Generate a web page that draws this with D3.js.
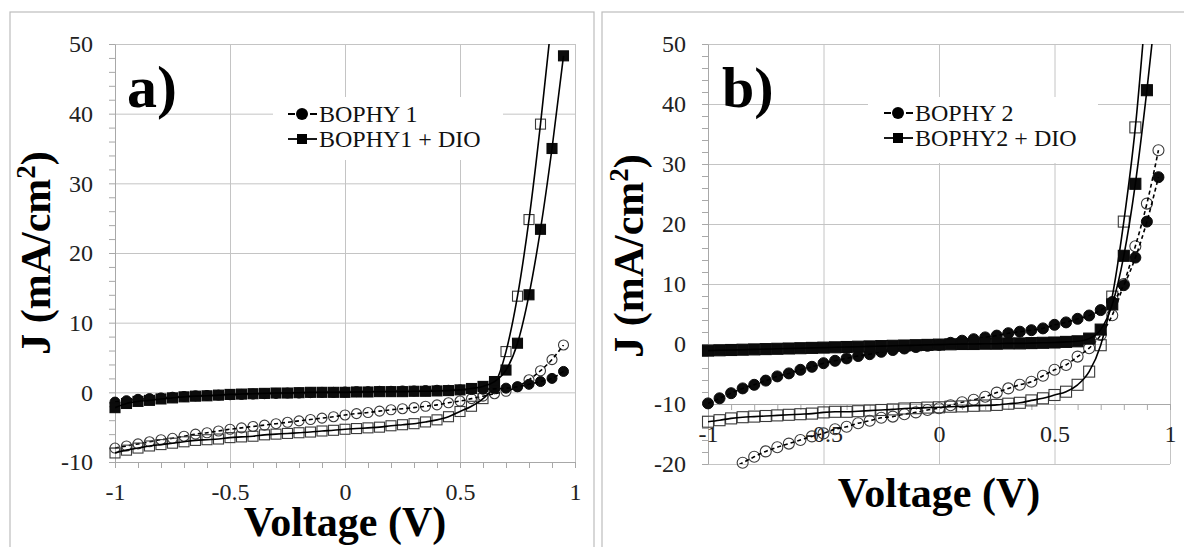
<!DOCTYPE html>
<html><head><meta charset="utf-8">
<script src="https://cdn.jsdelivr.net/npm/d3@7"></script>
<style>
body{margin:0;background:#fff;}
svg{display:block;font-family:"Liberation Serif","Times New Roman",serif;}
</style></head><body>
<svg id="c" width="1184" height="547"></svg>
<script>
// ---- data ----
const voltage = [-1,-0.95,-0.9,-0.85,-0.8,-0.75,-0.7,-0.65,-0.6,-0.55,
  -0.5,-0.45,-0.4,-0.35,-0.3,-0.25,-0.2,-0.15,-0.1,-0.05,
  0,0.05,0.1,0.15,0.2,0.25,0.3,0.35,0.4,0.45,
  0.5,0.55,0.6,0.65,0.7,0.75,0.8,0.85,0.9,0.95];

const xTickLabels = [-1,-0.5,0,0.5,1];
const aYTickLabels = [-10,0,10,20,30,40,50];
const bYTickLabels = [-20,-10,0,10,20,30,40,50];

const aLegend = ["BOPHY 1","BOPHY1 + DIO"];
const bLegend = ["BOPHY 2","BOPHY2 + DIO"];

// Panel a
const aBophy1Dark = [-1.4,-1.2,-1.0,-0.9,-0.8,-0.7,-0.6,-0.5,-0.45,-0.4,
  -0.35,-0.3,-0.25,-0.2,-0.15,-0.1,-0.1,-0.05,0,0,
  0.05,0.1,0.1,0.15,0.15,0.2,0.2,0.25,0.3,0.3,
  0.35,0.4,0.45,0.5,0.6,0.8,1.15,1.55,2.0,3.0];
const aBophy1Light = [-8.0,-7.7,-7.4,-7.1,-6.8,-6.6,-6.3,-6.0,-5.8,-5.55,
  -5.3,-5.1,-4.9,-4.7,-4.5,-4.3,-4.1,-3.9,-3.7,-3.5,
  -3.25,-3.05,-2.9,-2.7,-2.5,-2.35,-2.2,-2.0,-1.8,-1.5,
  -1.25,-0.9,-0.55,-0.2,0.15,0.8,1.8,3.1,4.7,6.8];
const aDioDark = [-2.2,-1.6,-1.3,-1.15,-0.95,-0.8,-0.65,-0.55,-0.5,-0.4,
  -0.3,-0.25,-0.2,-0.15,-0.1,-0.1,-0.05,0,0,0,
  0,0.05,0.05,0.1,0.1,0.1,0.15,0.15,0.2,0.25,
  0.35,0.55,0.85,1.55,3.2,7.05,14.0,23.4,35.0,48.3];
const aDioLight = [-8.7,-8.3,-8.0,-7.7,-7.5,-7.3,-7.1,-6.9,-6.8,-6.7,
  -6.5,-6.4,-6.3,-6.1,-6.0,-5.9,-5.8,-5.7,-5.55,-5.45,
  -5.3,-5.2,-5.1,-5.0,-4.8,-4.65,-4.5,-4.25,-3.95,-3.5,
  -2.75,-2.0,-0.9,1.0,5.85,13.8,24.8,38.5,54,70];

// Panel b
const bBophy2Dark = [-9.9,-9.05,-8.2,-7.4,-6.8,-6.1,-5.4,-4.9,-4.3,-3.8,
  -3.2,-2.8,-2.4,-2.0,-1.7,-1.3,-1.0,-0.75,-0.5,-0.3,
  -0.15,0.2,0.55,0.8,1.1,1.4,1.8,2.05,2.3,2.6,
  3.2,3.6,4.2,4.75,5.65,7.0,9.8,14.4,20.4,27.8];
const bBophy2Light = [-22.8,-21.8,-20.8,-19.8,-18.8,-17.9,-17.2,-16.6,-16.0,-15.4,
  -14.9,-14.2,-13.8,-13.2,-12.8,-12.3,-12.1,-11.7,-11.4,-11.0,
  -10.7,-10.2,-9.7,-9.3,-8.8,-8.1,-7.4,-6.8,-6.3,-5.3,
  -4.3,-3.5,-2.1,-0.7,1.5,4.8,10.0,16.3,23.4,32.3];
const bDioDark = [-1.1,-1.05,-1.0,-0.95,-0.9,-0.85,-0.8,-0.75,-0.7,-0.65,
  -0.6,-0.55,-0.5,-0.45,-0.4,-0.35,-0.3,-0.25,-0.2,-0.15,
  -0.1,-0.05,0,0,0.05,0.05,0.1,0.1,0.15,0.2,
  0.25,0.35,0.45,0.9,2.4,6.6,14.7,26.7,42.3,60];
const bDioLight = [-12.95,-12.7,-12.4,-12.2,-12.1,-12.0,-11.9,-11.8,-11.7,-11.6,
  -11.4,-11.3,-11.3,-11.2,-11.1,-11.0,-10.9,-10.75,-10.7,-10.6,
  -10.55,-10.45,-10.4,-10.3,-10.25,-10.15,-9.95,-9.8,-9.4,-9.05,
  -8.5,-7.95,-6.8,-4.6,-0.2,7.9,20.4,36.1,58,80];

// ---- drawing ----
const svg = d3.select("#c");
const GRID = "#c4c4c4";
const SERIF = "'Liberation Serif','Times New Roman',Times,serif";

function drawPanel(cfg){
  const g = svg.append("g");
  g.append("rect").attr("x",cfg.frame[0]).attr("y",cfg.frame[1])
    .attr("width",cfg.frame[2]).attr("height",cfg.frame[3])
    .attr("fill","#fff").attr("stroke","#bdbdbd").attr("stroke-width",1.2);

  const x = d3.scaleLinear().domain([-1,1]).range([cfg.x0,cfg.x1]);
  const y = d3.scaleLinear().domain(cfg.yDomain).range([cfg.y1,cfg.y0]);
  const W = cfg.x1-cfg.x0, H = cfg.y1-cfg.y0;

  const hg = g.append("g").attr("transform",`translate(${cfg.x0},0)`)
    .call(d3.axisLeft(y).tickValues(cfg.yTicks).tickSize(-W).tickFormat(""));
  hg.select(".domain").remove();
  hg.selectAll("line").attr("stroke",GRID);
  const vg = g.append("g").attr("transform",`translate(0,${cfg.y1})`)
    .call(d3.axisBottom(x).tickValues(xTickLabels).tickSize(-H).tickFormat(""));
  vg.select(".domain").remove();
  vg.selectAll("line").attr("stroke",GRID);

  const minorY = d3.range(cfg.yDomain[0], cfg.yDomain[1]+0.001, 2);
  const ya = g.append("g").attr("transform",`translate(${cfg.x0},0)`)
    .call(d3.axisLeft(y).tickValues(minorY).tickSize(6).tickSizeOuter(0).tickFormat(""));
  ya.select(".domain").attr("stroke","#a8a8a8");
  ya.selectAll("line").attr("stroke","#a8a8a8");

  const minorX = d3.range(-10, 11, 1).map(d=>d/10);
  const xa = g.append("g").attr("transform",`translate(0,${y(cfg.xAxisAt)})`)
    .call(d3.axisBottom(x).tickValues(minorX).tickSize(6).tickSizeOuter(0).tickFormat(""));
  xa.select(".domain").attr("stroke","#a8a8a8");
  xa.selectAll("line").attr("stroke","#a8a8a8");

  const yl = g.append("g").attr("transform",`translate(${cfg.x0},0)`)
    .call(d3.axisLeft(y).tickValues(cfg.yTicks).tickSize(0).tickPadding(22).tickFormat(d=>d));
  yl.attr("font-family",SERIF);
  yl.select(".domain").remove();
  yl.selectAll("text").attr("font-size",24).attr("font-family",SERIF).attr("fill","#222");

  const xl = g.append("g").attr("transform",`translate(0,${y(cfg.xAxisAt)})`)
    .call(d3.axisBottom(x).tickValues(xTickLabels).tickSize(0).tickFormat(d=>d));
  xl.attr("font-family",SERIF);
  xl.select(".domain").remove();
  xl.selectAll("text").attr("dy",null).attr("y",38).attr("font-size",24)
    .attr("font-family",SERIF).attr("fill","#222");

  g.append("text").attr("x",(cfg.x0+cfg.x1)/2).attr("y",cfg.xTitleY)
    .attr("text-anchor","middle").attr("font-weight","bold").attr("font-size",42)
    .attr("font-family",SERIF).text("Voltage (V)");
  const yt = g.append("text").attr("transform",`translate(${cfg.yTitleX},${cfg.yTitleY}) rotate(-90)`)
    .attr("text-anchor","middle").attr("font-weight","bold").attr("font-size",42)
    .attr("font-family",SERIF);
  yt.append("tspan").text("J (mA/cm");
  yt.append("tspan").attr("dy",-15).attr("font-size",27).text("2");
  yt.append("tspan").attr("dy",15).text(")");

  g.append("text").attr("x",cfg.letterX).attr("y",107).attr("font-weight","bold")
    .attr("font-family",SERIF).attr("font-size",cfg.letterSize).text(cfg.letter);

  g.append("rect").attr("x",cfg.legBox[0]).attr("y",cfg.legBox[1])
    .attr("width",cfg.legBox[2]).attr("height",cfg.legBox[3]).attr("fill","#fff");

  const clipId = "clip"+cfg.letter.replace(")","");
  g.append("clipPath").attr("id",clipId).append("rect")
    .attr("x",cfg.x0).attr("y",cfg.y0).attr("width",W).attr("height",H);
  const line = d3.line().x(d=>x(d.v)).y(d=>y(d.j)).curve(d3.curveMonotoneX);
  const inside = d => d.j >= cfg.yDomain[0] && d.j <= cfg.yDomain[1];
  const ms = cfg.markerSize;

  cfg.series.forEach(s=>{
    const pts = voltage.map((v,i)=>({v, j:s.values[i]}));
    const sg = g.append("g");
    const filled = s.filled;
    const mg = sg.append("g");
    const vis = pts.filter(inside);
    if(s.shape==="circle"){
      mg.selectAll("circle").data(vis).join("circle")
        .attr("cx",d=>x(d.v)).attr("cy",d=>y(d.j)).attr("r",ms/2)
        .attr("fill",filled?"#0b0b0b":"none")
        .attr("stroke",filled?"#0b0b0b":"#3a3a3a").attr("stroke-width",filled?1:1.1);
    } else {
      mg.selectAll("rect").data(vis).join("rect")
        .attr("x",d=>x(d.v)-ms/2).attr("y",d=>y(d.j)-ms/2)
        .attr("width",ms).attr("height",ms)
        .attr("fill",filled?"#0b0b0b":"none")
        .attr("stroke",filled?"#0b0b0b":"#3a3a3a").attr("stroke-width",1.1);
    }
    sg.append("path").datum(pts).attr("d",line).attr("fill","none")
      .attr("stroke","#000").attr("stroke-width",1.6)
      .attr("stroke-dasharray",s.dashed?"4,3":null)
      .attr("clip-path",`url(#${clipId})`);
  });

  cfg.legendNames.forEach((name,i)=>{
    const by = cfg.legY + i*25;
    const cy = by-8;
    const lx = cfg.legX;
    g.append("line").attr("x1",lx).attr("x2",lx+29).attr("y1",cy).attr("y2",cy)
      .attr("stroke","#000").attr("stroke-width",1.8)
      .attr("stroke-dasharray", i===0 ? "7,15" : null);
    if(i===0){
      g.append("circle").attr("cx",lx+14).attr("cy",cy).attr("r",6).attr("fill","#000");
    } else {
      g.append("rect").attr("x",lx+9).attr("y",cy-5).attr("width",10).attr("height",10).attr("fill","#000");
    }
    g.append("text").attr("x",lx+31).attr("y",by).attr("font-size",24)
      .attr("font-family",SERIF).attr("fill","#111").text(name);
  });
}

drawPanel({
  frame:[10,12,584,560], x0:115, x1:575, y0:44, y1:462,
  yDomain:[-10,50], yTicks:aYTickLabels, xAxisAt:-10,
  xTitleY:536, yTitleX:50, yTitleY:253,
  letter:"a)", letterX:127, letterSize:60,
  legBox:[273,97,230,63], legX:288, legY:122, legendNames:aLegend,
  markerSize:10,
  series:[
    {values:aBophy1Light, shape:"circle", filled:false, dashed:true},
    {values:aDioLight, shape:"square", filled:false, dashed:false},
    {values:aBophy1Dark, shape:"circle", filled:true, dashed:true},
    {values:aDioDark, shape:"square", filled:true, dashed:false}
  ]
});

drawPanel({
  frame:[602,12,600,560], x0:708, x1:1170, y0:44, y1:464,
  yDomain:[-20,50], yTicks:bYTickLabels, xAxisAt:-10,
  xTitleY:507, yTitleX:643, yTitleY:256,
  letter:"b)", letterX:722, letterSize:58,
  legBox:[868,97,230,66], legX:884, legY:121, legendNames:bLegend,
  markerSize:11,
  series:[
    {values:bBophy2Light, shape:"circle", filled:false, dashed:true},
    {values:bDioLight, shape:"square", filled:false, dashed:false},
    {values:bBophy2Dark, shape:"circle", filled:true, dashed:true},
    {values:bDioDark, shape:"square", filled:true, dashed:false}
  ]
});
</script>
</body></html>
